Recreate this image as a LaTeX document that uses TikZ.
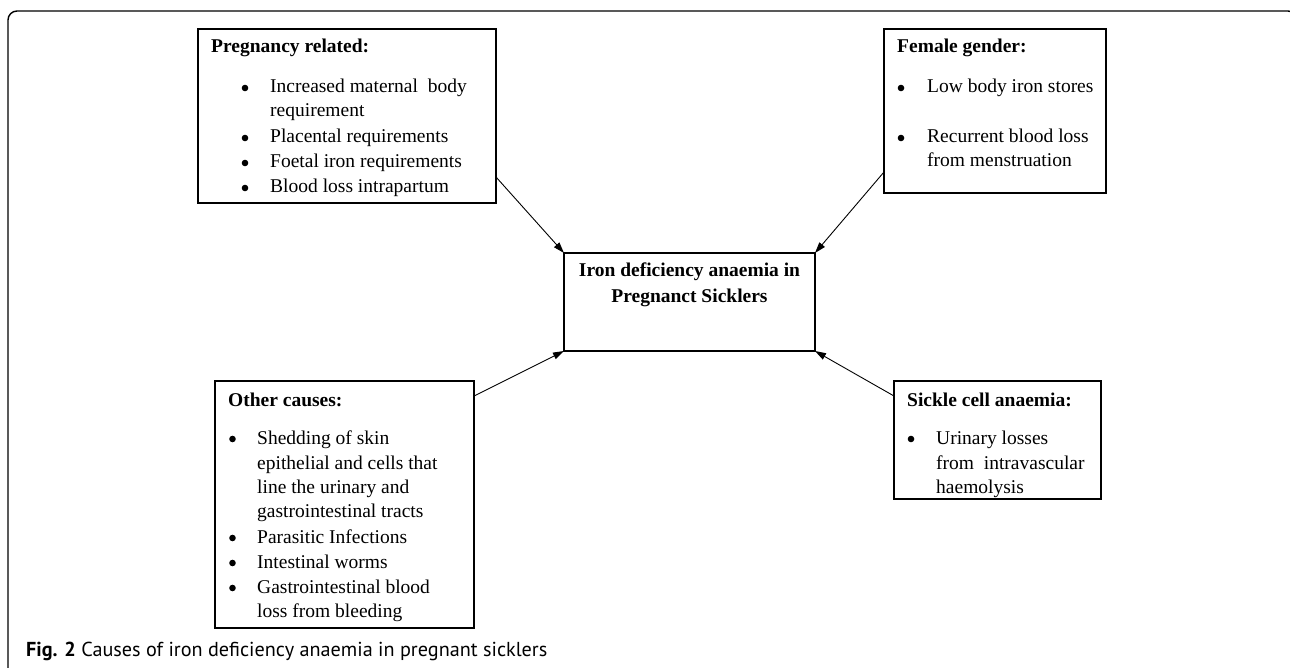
\documentclass[tikz,border=0pt]{standalone}
\usepackage{fontspec}
\setmainfont{Liberation Serif}
\newfontfamily\capfont{PT Sans}
\usetikzlibrary{arrows.meta}
\begin{document}
\begin{tikzpicture}[x=1pt,y=-1pt,
  boxn/.style={draw, line width=1.1pt, rectangle, inner sep=0pt, outer sep=0pt, anchor=north west},
  txt/.style={anchor=base west, inner sep=0pt, font=\fontsize{19.5}{24}\selectfont},
  hd/.style={anchor=base west, inner sep=0pt, font=\fontsize{19.5}{24}\selectfont\bfseries},
  ctxt/.style={anchor=base, inner sep=0pt, font=\fontsize{19.5}{24}\selectfont\bfseries},
  bul/.style={circle, fill, inner sep=0pt, minimum size=6.6pt},
  arr/.style={-{Triangle[length=11pt,width=7pt]}, line width=0.9pt}]
\useasboundingbox (0,0) rectangle (1290,668);
\clip (0,0) rectangle (1290,668);
\draw[line width=1.4pt, rounded corners=9pt] (8,720) -- (8,11) -- (1297,11) -- (1297,720);

% boxes
\node[boxn, minimum width=298pt, minimum height=174pt] (preg) at (198,29) {};
\node[boxn, minimum width=222pt, minimum height=164pt] (fem) at (884,29) {};
\node[boxn, minimum width=251pt, minimum height=98pt] (ctr) at (564,253) {};
\node[boxn, minimum width=259pt, minimum height=247pt] (oth) at (215,381) {};
\node[boxn, minimum width=207pt, minimum height=118pt] (sic) at (894,381) {};

% pregnancy related
\node[hd] (p0) at (211,53) {Pregnancy related:};
\node[bul] (pb1) at (245,88) {};
\node[txt] (p1) at (270,93) {Increased maternal\ \ body};
\node[txt] (p2) at (270,117) {requirement};
\node[bul] (pb3) at (245,138) {};
\node[txt] (p3) at (270,143) {Placental requirements};
\node[bul] (pb4) at (245,163) {};
\node[txt] (p4) at (270,168) {Foetal iron requirements};
\node[bul] (pb5) at (245,188) {};
\node[txt] (p5) at (270,193) {Blood loss intrapartum};

% female gender
\node[hd] (f0) at (897,53) {Female gender:};
\node[bul] (fb1) at (901,88) {};
\node[txt] (f1) at (927,93) {Low body iron stores};
\node[bul] (fb2) at (901,138) {};
\node[txt] (f2) at (927,143) {Recurrent blood loss};
\node[txt] (f3) at (927,167) {from menstruation};

% center
\node[ctxt] (c1) at (689.5,277) {Iron deficiency anaemia in};
\node[ctxt] (c2) at (689.5,302) {Pregnanct Sicklers};

% other causes
\node[hd] (o0) at (228,406) {Other causes:};
\node[bul] (ob1) at (232.5,439) {};
\node[txt] (o1) at (257,444) {Shedding of skin};
\node[txt] (o2) at (257,469) {epithelial and cells that};
\node[txt] (o3) at (257,493) {line the urinary and};
\node[txt] (o4) at (257,517) {gastrointestinal tracts};
\node[bul] (ob5) at (232.5,538) {};
\node[txt] (o5) at (257,543) {Parasitic Infections};
\node[bul] (ob6) at (232.5,563) {};
\node[txt] (o6) at (257,568) {Intestinal worms};
\node[bul] (ob7) at (232.5,588) {};
\node[txt] (o7) at (257,593) {Gastrointestinal blood};
\node[txt] (o8) at (257,617) {loss from bleeding};

% sickle cell
\node[hd] (s0) at (907,406) {Sickle cell anaemia:};
\node[bul] (sb1) at (911,439) {};
\node[txt] (s1) at (936,444) {Urinary losses};
\node[txt] (s2) at (936,469) {from\ \ intravascular};
\node[txt] (s3) at (936,493) {haemolysis};

% arrows
\draw[arr] ([yshift=-148pt]preg.north east) -- (ctr.north west);
\draw[arr] ([yshift=-143pt]fem.north west) -- (ctr.north east);
\draw[arr] ([yshift=-15pt]oth.north east) -- (ctr.south west);
\draw[arr] ([yshift=-15pt]sic.north west) -- (ctr.south east);

% caption
\node[anchor=base west, inner sep=0pt, font=\capfont\fontsize{20.2}{24}\selectfont] (cap) at (26,656)
  {\textbf{Fig. 2} Causes of iron deficiency anaemia in pregnant sicklers};
\end{tikzpicture}
\end{document}
